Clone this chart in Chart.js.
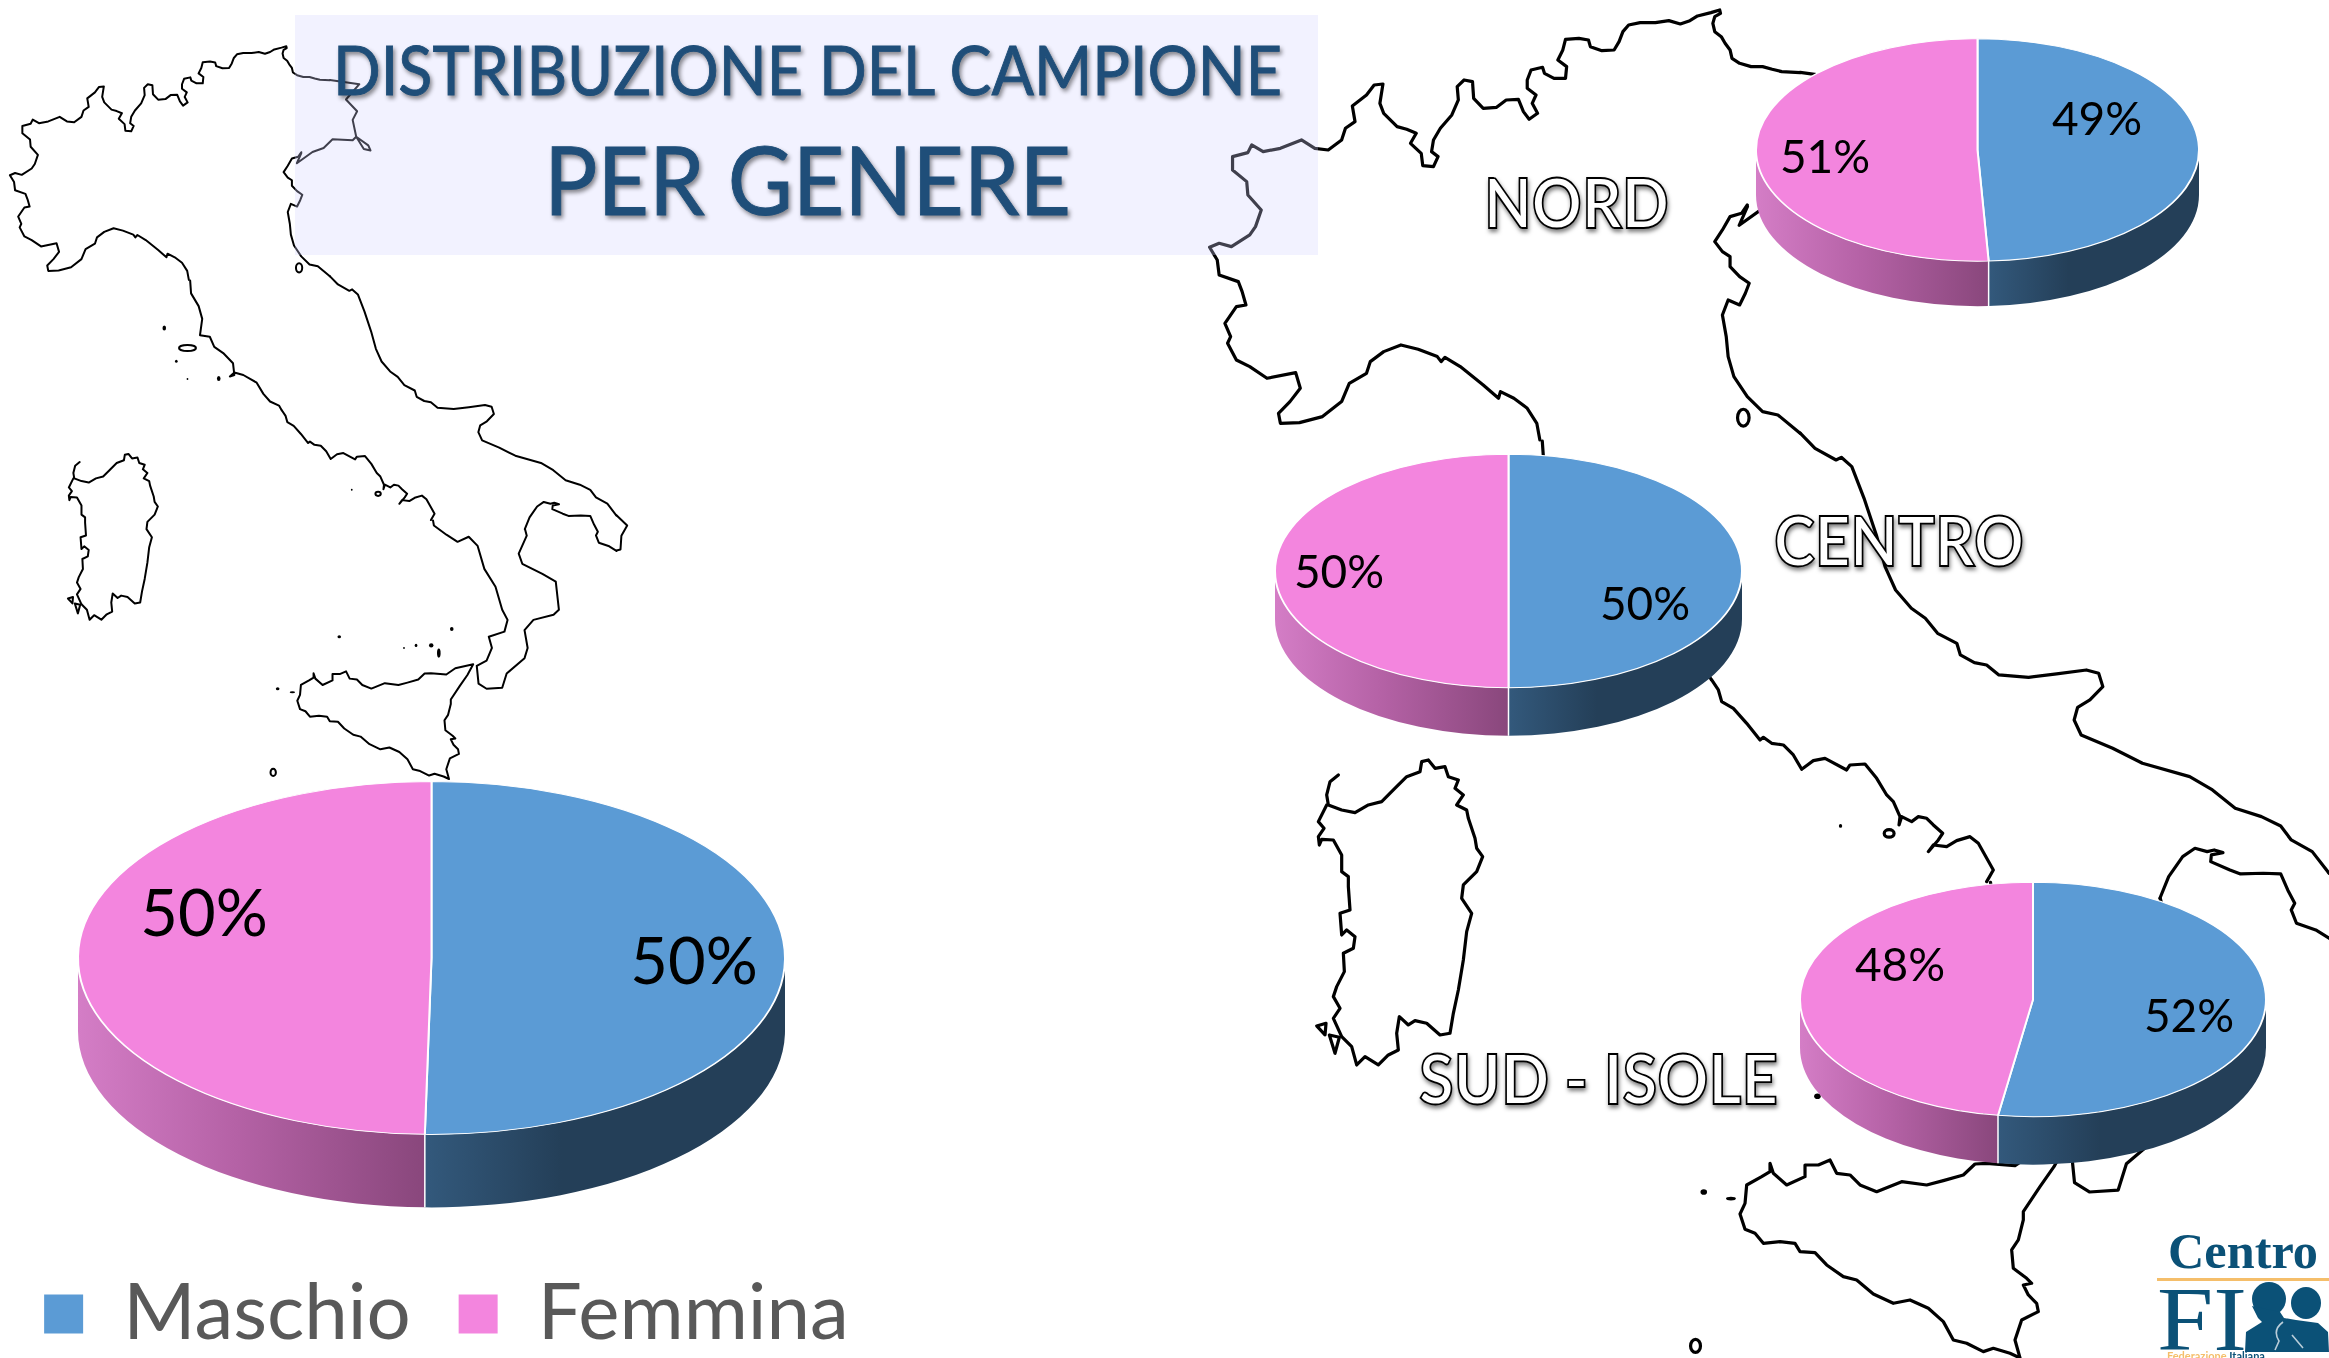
<!DOCTYPE html>
<html lang="it">
<head>
<meta charset="utf-8">
<title>Distribuzione del campione per genere</title>
<script src="https://cdn.jsdelivr.net/npm/chart.js@4"></script>
<style>
html,body{margin:0;padding:0;background:#fff;width:2329px;height:1358px;overflow:hidden}
#stage{position:relative;width:2329px;height:1358px;overflow:hidden}
#bg,#over{position:absolute;left:0;top:0}
canvas{position:absolute}
.coast{fill:none;stroke:#000;stroke-linejoin:round;stroke-linecap:round}
.dot{fill:#000}
.isle{fill:none;stroke:#000}
.title{font-family:Lato,sans-serif;fill:#1F4E79;stroke:#1F4E79;stroke-width:.9px;filter:drop-shadow(2px 3px 2px rgba(0,0,0,.45))}
.region{font-family:Lato,sans-serif;font-weight:700;fill:#fff;stroke:#000;stroke-width:1.8px;filter:drop-shadow(1px 3px 2px rgba(0,0,0,.5))}
</style>
</head>
<body>
<div id="stage">
<svg id="bg" width="2329" height="1358" viewBox="0 0 2329 1358">
  <defs>
    <g id="italy">
      <!-- Tuscany and Lazio -->
      <path vector-effect="non-scaling-stroke" class="coast" d="M426 550L428 575L445 600L453 625L448 657L470 660L480 680L500 692L522 712L525 735L515 738L525 730L545 735L575 750L590 772L605 787L625 795L631 804"/>
      <g transform="matrix(1.21374,0,0,1.06553,-1445.9,79.9)">
        <!-- Campania -->
        <path vector-effect="non-scaling-stroke" class="coast" transform="translate(1700,670) scale(.3333)" d="M35 30L55 60L65 95L100 115L140 160L180 210L190 202L215 220L250 225L280 255L305 298L340 272L375 265L440 300L450 285L495 282L530 325L560 375L580 395L600 440L597 465L605 440L635 455L655 440L680 445L700 465L728 490L715 510L685 545L700 525L740 530L770 512L810 500L835 520L880 600L860 635"/>
        <g transform="translate(1780,420) scale(.35014,.3333)">
          <!-- Adriatic down to the heel -->
          <path vector-effect="non-scaling-stroke" class="coast" d="M57 39L100 85L160 120L175 112L205 140L240 235L275 345L300 440L330 510L375 565L415 595L450 640L505 670L515 705L555 728L590 735L625 765L710 772L790 762L875 750L910 760L922 800L885 840L850 862L840 900L860 945L950 985L1035 1030L1170 1070L1235 1110L1300 1165L1375 1190L1430 1218L1460 1260L1520 1295L1568 1360"/>
          <!-- Salento to Taranto -->
          <path vector-effect="non-scaling-stroke" class="coast" d="M1568 1555L1530 1530L1475 1510L1460 1470L1470 1450L1450 1410L1430 1362L1380 1360L1315 1362L1285 1350L1230 1325L1232 1305L1265 1298L1240 1290L1220 1295L1185 1285L1150 1310L1110 1370L1085 1435"/>
        </g>
        <!-- Sicily -->
        <path vector-effect="non-scaling-stroke" class="coast" transform="translate(1690,1140) scale(.3333)" d="M240 70L250 100L290 135L345 110L345 75L385 75L420 60L440 100L480 105L510 135L560 155L635 125L710 135L760 122L820 105L855 72L890 70L975 77L1025 43L1124 21L1092 80L1050 140L1000 215L1000 240L985 300L965 330L970 385L1010 415L1025 430L1000 435L1015 465L1040 490L1045 515L995 540L975 600L990 654L960 640L910 625L880 635L830 610L790 600L760 545L715 505L660 480L610 490L550 462L500 420L460 410L410 375L375 338L330 335L315 310L270 305L220 310L195 280L165 268L150 222L165 190L170 135L215 110L240 95Z"/>
      </g>
      <!-- Heel tip -->
      <path vector-effect="non-scaling-stroke" class="coast" d="M1381 1010L1405 1030L1392 1050L1390 1077L1381 1079"/>
      <!-- Cilento, Calabria, up to Taranto -->
      <path vector-effect="non-scaling-stroke" class="coast" d="M970 1020L972 1030L1000 1048L1025 1062L1050 1052L1070 1070L1085 1115L1110 1150L1125 1195L1137 1215L1130 1238L1095 1248L1102 1270L1090 1295L1068 1305L1072 1340L1090 1350L1125 1348L1135 1320L1175 1290L1182 1270L1175 1235L1195 1215L1240 1205L1252 1195L1245 1140L1215 1125L1170 1105L1162 1085L1180 1050L1176 1037"/>
      <!-- Venetian coast -->
      <path vector-effect="non-scaling-stroke" class="coast" transform="matrix(1.21374,0,0,1.06553,-1445.9,79.9) translate(1200,0) scale(.3827,.3333)" d="M1568 1300L1510 1245L1470 1235L1430 1190L1395 1130L1380 1070L1375 1010L1365 945L1380 900L1410 915L1425 880L1435 850L1410 830L1385 800L1385 770L1365 755L1345 725L1365 690L1385 650L1415 640L1430 615"/>
      <!-- Trieste -->
      <path vector-effect="non-scaling-stroke" class="coast" d="M675 300L665 320L700 298L725 290L745 273L790 275L798 268L825 285L830 295L815 292L798 268L790 235L800 218L775 195L805 165L739 157"/>
      <!-- Alps and Ligurian coast -->
      <path vector-effect="non-scaling-stroke" class="coast" transform="matrix(1.21374,0,0,1.06553,-1445.9,79.9) translate(1200,0) scale(.3827,.3333)" d="M1568 218L1520 215L1495 208L1470 200L1440 200L1410 190L1390 175L1385 150L1372 130L1362 110L1345 95L1340 70L1345 50L1360 40L1358 30L1335 38L1300 48L1280 62L1255 72L1225 62L1190 68L1150 68L1120 75L1105 95L1095 125L1082 150L1050 152L1020 140L1015 120L990 115L955 118L948 150L935 180L958 200L955 235L925 235L900 220L895 202L865 210L855 240L855 265L878 285L868 310L882 340L860 358L845 335L832 298L800 300L775 322L740 325L715 295L712 245L690 240L672 260L675 300L658 345L628 385L610 420L605 455L622 470L610 500L582 497L578 460L550 430L565 400L540 388L515 380L480 340L470 310L478 252L455 255L435 285L398 318L405 365L380 385L370 420L335 450L300 445L265 420L210 445L165 455L135 435L125 458L85 470L85 510L122 545L125 585L160 630L145 680L130 705L82 740L50 730L25 742L45 780L50 825L100 845L110 875L120 915L95 920L65 970L80 1010L72 1030L95 1080L130 1100L175 1135L250 1118L262 1165L235 1205L205 1240L210 1270L260 1268L320 1250L370 1205L390 1150L435 1120L445 1085L480 1055L525 1035L570 1048L620 1070L630 1085L640 1072L680 1100L740 1155L780 1195L785 1175L820 1195L855 1225L880 1270L888 1320"/>
      <!-- Sardinia -->
      <g transform="matrix(1.21374,0,0,1.06553,-1445.9,79.9) translate(1300,740) scale(.3333)">
        <path vector-effect="non-scaling-stroke" class="coast" d="M115 105L90 125L80 165L85 195L125 210L165 218L205 195L245 185L280 150L320 110L360 95L365 65L385 60L405 85L435 80L445 110L475 120L465 145L490 165L470 195L500 210L505 235L525 295L530 325L548 350L530 395L490 435L485 475L515 520L500 575L490 660L475 750L460 820L450 880L420 885L380 850L345 842L325 855L298 830L290 880L295 930L265 945L235 975L195 950L170 975L155 920L125 890L100 835L120 805L100 770L110 740L133 695L130 640L160 625L165 590L140 570L125 585L120 520L150 510L145 440L145 410L125 395L125 345L100 300L65 298L58 315L55 290L72 265L55 245L80 195"/>
        <path vector-effect="non-scaling-stroke" class="coast" d="M50 858L78 850L75 885Z"/>
        <path vector-effect="non-scaling-stroke" class="coast" d="M88 885L118 892L105 940Z"/>
      </g>
      <g>
        <ellipse vector-effect="non-scaling-stroke" class="isle" cx="670" cy="525" rx="7" ry="9"/>
        <ellipse vector-effect="non-scaling-stroke" class="isle" cx="420" cy="682" rx="19" ry="6"/>
        <ellipse vector-effect="non-scaling-stroke" class="isle" cx="847" cy="968" rx="6" ry="4"/>
        <ellipse vector-effect="non-scaling-stroke" class="isle" cx="612" cy="1514" rx="6" ry="7"/>
        <ellipse class="dot" cx="368" cy="643" rx="4" ry="5"/>
        <ellipse class="dot" cx="395" cy="708" rx="3" ry="3"/>
        <ellipse class="dot" cx="420" cy="743" rx="2" ry="2"/>
        <ellipse class="dot" cx="490" cy="742" rx="4" ry="5"/>
        <ellipse class="dot" cx="788" cy="960" rx="2" ry="2"/>
        <ellipse class="dot" cx="760" cy="1248" rx="4" ry="3"/>
        <ellipse class="dot" cx="905" cy="1270" rx="2" ry="2"/>
        <ellipse class="dot" cx="932" cy="1265" rx="3" ry="3"/>
        <ellipse class="dot" cx="966" cy="1265" rx="5" ry="4"/>
        <ellipse class="dot" cx="983" cy="1280" rx="4" ry="9"/>
        <ellipse class="dot" cx="1012" cy="1233" rx="4" ry="4"/>
        <ellipse class="dot" cx="622" cy="1350" rx="4" ry="3"/>
        <ellipse class="dot" cx="655" cy="1357" rx="6" ry="2"/>
      </g>
    </g>
  </defs>
  <use href="#italy" transform="matrix(0.4464,0,0,0.5102,0,0)" style="stroke-width:2px"/>
  <use href="#italy" transform="matrix(0.8239,0,0,0.9385,1191.3,-75)" style="stroke-width:3.2px"/>
  <rect x="295" y="15" width="1023" height="240" fill="rgba(212,212,255,0.3)"/>
  <text class="title" x="333" y="95" font-size="67" textLength="949" lengthAdjust="spacingAndGlyphs">DISTRIBUZIONE DEL CAMPIONE</text>
  <text class="title" x="544" y="215" font-size="95" textLength="527" lengthAdjust="spacingAndGlyphs">PER GENERE</text>
</svg>
<canvas id="c0"></canvas>
<canvas id="c1"></canvas>
<canvas id="c2"></canvas>
<canvas id="c3"></canvas>
<svg id="over" width="2329" height="1358" viewBox="0 0 2329 1358">
  <text class="region" x="1484" y="228" font-size="68" textLength="185" lengthAdjust="spacingAndGlyphs">NORD</text>
  <text class="region" x="1774" y="566" font-size="68" textLength="250" lengthAdjust="spacingAndGlyphs">CENTRO</text>
  <text class="region" x="1419" y="1104" font-size="68" textLength="359" lengthAdjust="spacingAndGlyphs">SUD - ISOLE</text>
  <g fill="#0B5177">
    <text x="2168" y="1268" font-family="'Liberation Serif',serif" font-weight="700" font-size="50" textLength="150" lengthAdjust="spacingAndGlyphs">Centro</text>
    <text x="2157" y="1350" font-family="'Liberation Serif',serif" font-size="92" textLength="90" lengthAdjust="spacingAndGlyphs">FI</text>
    <ellipse cx="2269" cy="1299" rx="17" ry="17"/>
    <ellipse cx="2306" cy="1303" rx="15" ry="16"/>
    <path d="M2252 1306L2258 1318L2262 1322L2246 1332L2245 1352L2329 1352L2328 1332L2318 1323L2296 1320L2284 1318L2280 1312Z"/>
  </g>
  <rect x="2157" y="1278" width="172" height="3" fill="#F5BE6A"/>
  <path d="M2283 1322Q2272 1330 2279 1341L2275 1350M2292 1335L2303 1348" fill="none" stroke="#B9CDD9" stroke-width="1.6"/>
  <text x="2167" y="1360" font-family="Lato,sans-serif" font-weight="700" font-size="11" fill="#F5BE6A">Federazione <tspan fill="#0B5177">Italiana</tspan></text>
</svg>
</div>
<script>
// Data
const genders = ['Maschio', 'Femmina'];
const maschio = [50.3, 49.2, 50, 52.4];
const femmina = [49.7, 50.8, 50, 47.6];

// Colours
const topColors = ['#5B9BD5', '#F385DE'];

// Layout of each pie on the page, in page pixels
const frames = [
  {left: -34, top: 519, w: 960, h: 844, cx: 431.5, cy: 958, squash: 0.499, depth: 73, font: 65,
   labels: [[694, 961], [204, 913]], legend: true},
  {left: 1755, top: -73, w: 445, h: 445, cx: 1977.5, cy: 150, squash: 0.502, depth: 45, font: 46,
   labels: [[2097, 118], [1825, 156]]},
  {left: 1274, top: 336, w: 469, h: 469, cx: 1508.5, cy: 571, squash: 0.5, depth: 48, font: 46,
   labels: [[1645, 603], [1339, 571]]},
  {left: 1799, top: 765, w: 468, h: 468, cx: 2033, cy: 999.5, squash: 0.503, depth: 48, font: 46,
   labels: [[2189, 1015], [1900, 964]]}
];

function pieCentre(f) { return {x: f.cx - f.left, y: f.cy - f.top}; }

const tiltPlugin = {
  id: 'tilt',
  beforeDatasetsDraw(chart, args, opts) {
    const f = opts.frame, ctx = chart.ctx, arcs = chart.getDatasetMeta(0).data;
    const c = pieCentre(f), R = arcs[0].outerRadius, ry = R * f.squash;
    const xAt = a => c.x + R * Math.cos(a);
    // the rim: only the front half of the disc is visible
    arcs.forEach((arc, i) => {
      const a0 = Math.max(arc.startAngle, 0), a1 = Math.min(arc.endAngle, Math.PI);
      if (a1 <= a0) return;
      const x0 = xAt(a0), x1 = xAt(a1);
      const g = ctx.createLinearGradient(Math.min(x0, x1), 0, Math.max(x0, x1), 0);
      if (i === 0) {
        g.addColorStop(0, '#33597C'); g.addColorStop(0.38, '#243F58'); g.addColorStop(1, '#243F58');
      } else {
        g.addColorStop(0, '#D47DC6'); g.addColorStop(0.45, '#B562A6'); g.addColorStop(1, '#89477C');
      }
      ctx.save();
      ctx.beginPath();
      ctx.ellipse(c.x, c.y, R, ry, 0, a0, a1);
      ctx.ellipse(c.x, c.y + f.depth, R, ry, 0, a1, a0, true);
      ctx.closePath();
      ctx.fillStyle = g;
      ctx.fill();
      ctx.restore();
    });
    // white seam where the slices meet on the rim
    arcs.forEach(arc => {
      const a = arc.endAngle;
      if (a > 0 && a < Math.PI) {
        const x = xAt(a), y = c.y + ry * Math.sin(a);
        ctx.save();
        ctx.strokeStyle = '#fff'; ctx.lineWidth = 1.5;
        ctx.beginPath(); ctx.moveTo(x, y); ctx.lineTo(x, y + f.depth); ctx.stroke();
        ctx.restore();
      }
    });
    ctx.save();
    ctx.translate(c.x, c.y);
    ctx.scale(1, f.squash);
    ctx.translate(-arcs[0].x, -arcs[0].y);
  },
  afterDatasetsDraw(chart, args, opts) {
    const f = opts.frame, ctx = chart.ctx, ds = chart.data.datasets[0].data;
    ctx.restore();
    const total = ds.reduce((a, b) => a + b, 0);
    ctx.save();
    ctx.fillStyle = '#000';
    ctx.font = f.font + 'px Lato, sans-serif';
    ctx.textAlign = 'center';
    ctx.textBaseline = 'alphabetic';
    ds.forEach((v, i) => {
      const [x, y] = f.labels[i];
      ctx.fillText(Math.round(v / total * 100) + '%', x - f.left, y - f.top + f.font * 0.36);
    });
    ctx.restore();
  }
};

Chart.defaults.font.family = 'Lato, sans-serif';

frames.forEach((f, i) => {
  const el = document.getElementById('c' + i);
  el.width = f.w; el.height = f.h;
  el.style.left = f.left + 'px'; el.style.top = f.top + 'px';
  el.style.width = f.w + 'px'; el.style.height = f.h + 'px';
  new Chart(el, {
    type: 'pie',
    data: {
      labels: genders,
      datasets: [{
        data: [maschio[i], femmina[i]],
        backgroundColor: topColors,
        borderColor: '#fff',
        borderWidth: 2
      }]
    },
    options: {
      responsive: false,
      animation: false,
      devicePixelRatio: 1,
      events: [],
      layout: {padding: 0},
      plugins: {
        tilt: {frame: f},
        tooltip: {enabled: false},
        title: {display: false},
        legend: {
          display: !!f.legend,
          position: 'bottom',
          labels: {
            font: {family: 'Lato, sans-serif', size: 78},
            color: '#595959',
            boxWidth: 41,
            boxHeight: 41,
            padding: 47
          }
        }
      }
    },
    plugins: [tiltPlugin]
  });
});
</script>
</body>
</html>
